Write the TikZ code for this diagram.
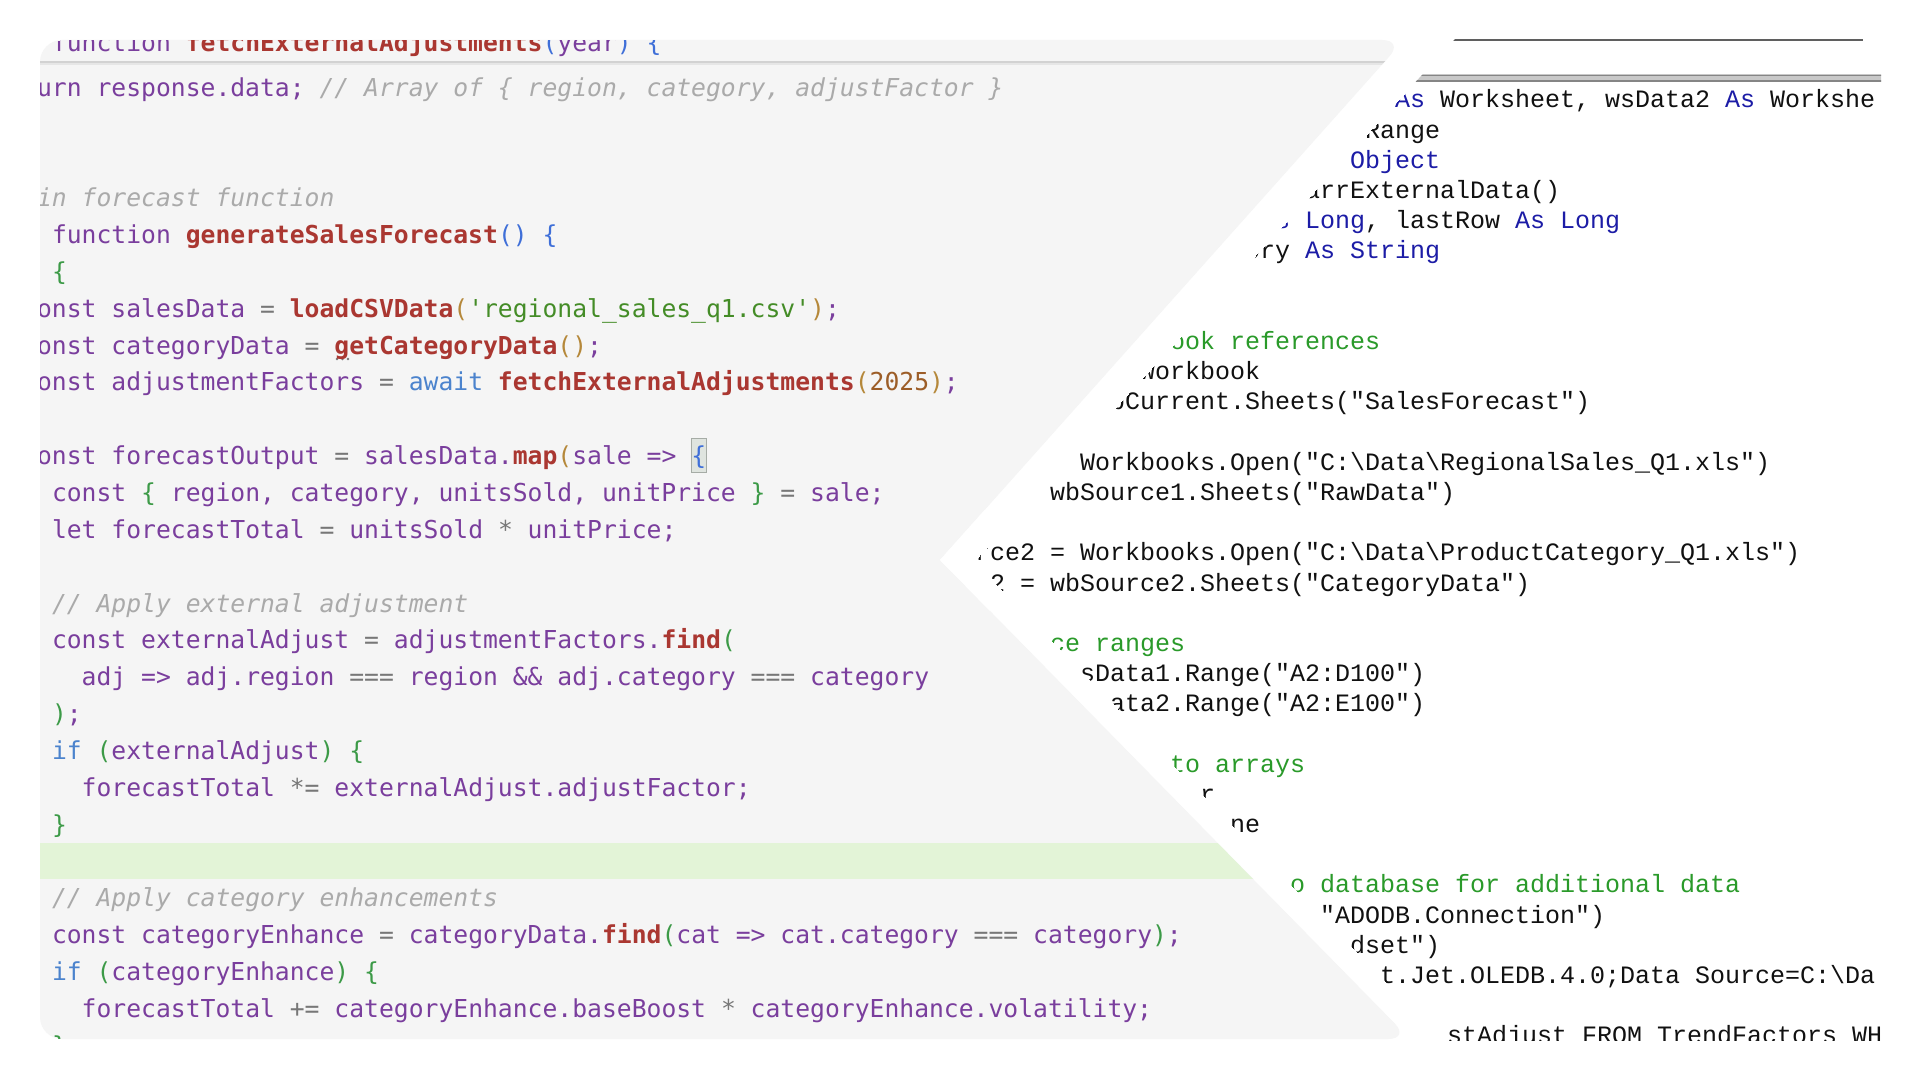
\documentclass[tikz,border=0pt]{standalone}
\usepackage{fontspec}
\newfontfamily\jsfont{DejaVu Sans Mono}[Ligatures=TeXOff]
\newfontfamily\vbfont{Liberation Mono}[Ligatures=TeXOff]
\definecolor{panelbg}{HTML}{F5F5F5}
\definecolor{bandgreen}{HTML}{E3F4D7}
\definecolor{jsvar}{HTML}{7A3E9D}
\definecolor{jsfn}{HTML}{AA3731}
\definecolor{jsstr}{HTML}{448C27}
\definecolor{jscmt}{HTML}{AAAAAA}
\definecolor{jsnum}{HTML}{9C5D27}
\definecolor{jskw}{HTML}{4B83CD}
\definecolor{jsop}{HTML}{777777}
\definecolor{brA}{HTML}{3F6FD8}
\definecolor{brB}{HTML}{3C9A47}
\definecolor{brC}{HTML}{B5883A}
\definecolor{vbkw}{HTML}{1C1CA6}
\definecolor{vbcmt}{HTML}{2A9A2A}
\definecolor{vbtxt}{HTML}{111111}
\definecolor{sepgray}{HTML}{D2D2D2}
\definecolor{sepshade}{HTML}{E6E6E6}
\definecolor{boxfill}{HTML}{DFE4DF}
\definecolor{boxline}{HTML}{A6ACA6}
\definecolor{toplinegray}{HTML}{5F5F5F}
\definecolor{dlfill}{HTML}{C8C8C8}
\definecolor{dldark}{HTML}{858585}
\newcommand\JV[1]{\textcolor{jsvar}{#1}}
\newcommand\JF[1]{\textcolor{jsfn}{\bfseries #1}}
\newcommand\JS[1]{\textcolor{jsstr}{#1}}
\newcommand\JC[1]{\textcolor{jscmt}{\itshape #1}}
\newcommand\JN[1]{\textcolor{jsnum}{#1}}
\newcommand\JK[1]{\textcolor{jskw}{#1}}
\newcommand\JO[1]{\textcolor{jsop}{#1}}
\newcommand\BA[1]{\textcolor{brA}{#1}}
\newcommand\BB[1]{\textcolor{brB}{#1}}
\newcommand\BC[1]{\textcolor{brC}{#1}}
\newcommand\VK[1]{\textcolor{vbkw}{#1}}
\newcommand\VC[1]{\textcolor{vbcmt}{#1}}
\tikzset{
  js/.style={anchor=base west, inner sep=0pt, outer sep=0pt, text=jsvar,
    font=\frenchspacing\jsfont\fontsize{18.52pt}{22pt}\selectfont},
  vb/.style={anchor=base west, inner sep=0pt, outer sep=0pt, text=vbtxt,
    font=\frenchspacing\vbfont\fontsize{18.75pt}{22pt}\selectfont},
  panelshape/.style={fill=panelbg},
}
\begin{document}
\begin{tikzpicture}[x=0.75pt,y=-0.75pt]
\useasboundingbox (0,0) rectangle (1920,1080);
\fill[white] (0,0) rectangle (1920,1080);

% ---------- left editor panel ----------
\fill[panelshape, rounded corners=16.5pt] (40,300) -- (40,40) -- (1404,40) -- (940,560) -- (1410,1039) -- (40,1039) -- cycle;
% keep the notch of the chevron sharp
\fill[white] (940,560) -- (985,509.6) -- (990,611) -- cycle;

\begin{scope}
\clip[rounded corners=16.5pt] (40,300) -- (40,40) -- (1404,40) -- (940,560) -- (1410,1039) -- (40,1039) -- cycle;
% highlighted line
\fill[bandgreen] (40,843) rectangle (1500,879);
\fill[white] (940,560) -- (985,509.6) -- (990,611) -- cycle;
% bracket match box
\filldraw[fill=boxfill, draw=boxline, line width=0.75pt] (691.5,438.5) rectangle (706.5,472.5);
% suggestion dots
\fill[jsop] (337,359) circle (1pt) (342.5,359) circle (1pt) (348,359) circle (1pt);

\node[js] (j00) at (52,52) {\JV{function} \JF{fetchExternalAdjustments}\BA{(}\JV{year}\BA{)} \BA{\{}};
% sticky header separator
\draw[sepgray, line width=1.6pt] (40,62) -- (1400,62);
\draw[sepshade, line width=1.2pt] (40,64.3) -- (1400,64.3);

\node[js] (j01) at (37.13,96.1) {\JV{urn response.data;} \JC{// Array of \{ region, category, adjustFactor \}}};
\node[js] (j02) at (37.13,206.65) {\JC{in forecast function}};
\node[js] (j03) at (52,243.5) {\JV{function} \JF{generateSalesForecast}\BA{()} \BA{\{}};
\node[js] (j04) at (52,280.35) {\BB{\{}};
\node[js] (j05) at (37.13,317.2) {\JV{onst salesData} \JO{=} \JF{loadCSVData}\BC{(}\JS{'regional\_sales\_q1.csv'}\BC{)}\JV{;}};
\node[js] (j06) at (37.13,354.05) {\JV{onst categoryData} \JO{=} \JF{getCategoryData}\BC{()}\JV{;}};
\node[js] (j07) at (37.13,390.9) {\JV{onst adjustmentFactors} \JO{=} \JK{await} \JF{fetchExternalAdjustments}\BC{(}\JN{2025}\BC{)}\JV{;}};
\node[js] (j08) at (37.13,464.6) {\JV{onst forecastOutput} \JO{=} \JV{salesData.}\JF{map}\BC{(}\JV{sale =>} \BA{\{}};
\node[js] (j09) at (52,501.45) {\JV{const} \BB{\{} \JV{region, category, unitsSold, unitPrice} \BB{\}} \JO{=} \JV{sale;}};
\node[js] (j10) at (52,538.3) {\JV{let forecastTotal} \JO{=} \JV{unitsSold} \JO{*} \JV{unitPrice;}};
\node[js] (j11) at (52,612.0) {\JC{// Apply external adjustment}};
\node[js] (j12) at (52,648.85) {\JV{const externalAdjust} \JO{=} \JV{adjustmentFactors.}\JF{find}\BB{(}};
\node[js] (j13) at (81.74,685.7) {\JV{adj => adj.region} \JO{===} \JV{region \&\& adj.category} \JO{===} \JV{category}};
\node[js] (j14) at (52,722.55) {\BB{)}\JV{;}};
\node[js] (j15) at (52,759.4) {\JK{if} \BB{(}\JV{externalAdjust}\BB{)} \BB{\{}};
\node[js] (j16) at (81.74,796.25) {\JV{forecastTotal} \JO{*=} \JV{externalAdjust.adjustFactor;}};
\node[js] (j17) at (52,833.1) {\BB{\}}};
\node[js] (j18) at (52,906.8) {\JC{// Apply category enhancements}};
\node[js] (j19) at (52,943.65) {\JV{const categoryEnhance} \JO{=} \JV{categoryData.}\JF{find}\BB{(}\JV{cat => cat.category} \JO{===} \JV{category}\BB{)}\JV{;}};
\node[js] (j20) at (52,980.5) {\JK{if} \BB{(}\JV{categoryEnhance}\BB{)} \BB{\{}};
\node[js] (j21) at (81.74,1017.35) {\JV{forecastTotal} \JO{+=} \JV{categoryEnhance.baseBoost} \JO{*} \JV{categoryEnhance.volatility;}};
\node[js] (j22) at (52,1054.2) {\BB{\}}};
\end{scope}

% ---------- right VBA panel ----------
\begin{scope}
\clip (1456,38) -- (974,562) -- (1443,1040) -- (1881,1040) -- (1881,38) -- cycle;
\draw[toplinegray, line width=1.2pt] (1430,40) -- (1863,40);
\fill[dlfill] (1390,74.5) rectangle (1890,82);
\draw[dldark, line width=0.8pt] (1390,75.3) -- (1890,75.3);
\draw[dldark, line width=1.1pt] (1390,81) -- (1890,81);

\node[vb] (v00) at (1395,108) {\VK{As} Worksheet, wsData2 \VK{As} Workshe};
\node[vb] (v01) at (1365,138.19) {Range};
\node[vb] (v02) at (1350,168.38) {\VK{Object}};
\node[vb] (v03) at (1305,198.57) {arrExternalData()};
\node[vb] (v04) at (1275,228.76) {\VK{s Long}, lastRow \VK{As Long}};
\node[vb] (v05) at (1245,258.95) {ory \VK{As String}};
\node[vb] (v08) at (1170,349.52) {\VC{ook references}};
\node[vb] (v09) at (1140,379.71) {Workbook};
\node[vb] (v10) at (1110,409.9) {bCurrent.Sheets("SalesForecast")};
\node[vb] (v12) at (1080,470.28) {Workbooks.Open("C:\textbackslash{}Data\textbackslash{}RegionalSales\_Q1.xls")};
\node[vb] (v13) at (1050,500.47) {wbSource1.Sheets("RawData")};
\node[vb] (v15) at (975,560.85) {rce2 = Workbooks.Open("C:\textbackslash{}Data\textbackslash{}ProductCategory\_Q1.xls")};
\node[vb] (v16) at (990,591.04) {2 = wbSource2.Sheets("CategoryData")};
\node[vb] (v18) at (1050,651.42) {\VC{ce ranges}};
\node[vb] (v19) at (1080,681.61) {sData1.Range("A2:D100")};
\node[vb] (v20) at (1110,711.8) {ata2.Range("A2:E100")};
\node[vb] (v22) at (1170,772.18) {\VC{to arrays}};
\node[vb] (v23) at (1200,802.37) {r};
\node[vb] (v24) at (1230,832.56) {ne};
\node[vb] (v26) at (1290,892.94) {\VC{o database for additional data}};
\node[vb] (v27) at (1320,923.13) {"ADODB.Connection")};
\node[vb] (v28) at (1350,953.32) {dset")};
\node[vb] (v29) at (1380,983.51) {t.Jet.OLEDB.4.0;Data Source=C:\textbackslash{}Da};
\node[vb] (v31) at (1447,1043.89) {stAdjust FROM TrendFactors WH};
\end{scope}
\end{tikzpicture}
\end{document}
